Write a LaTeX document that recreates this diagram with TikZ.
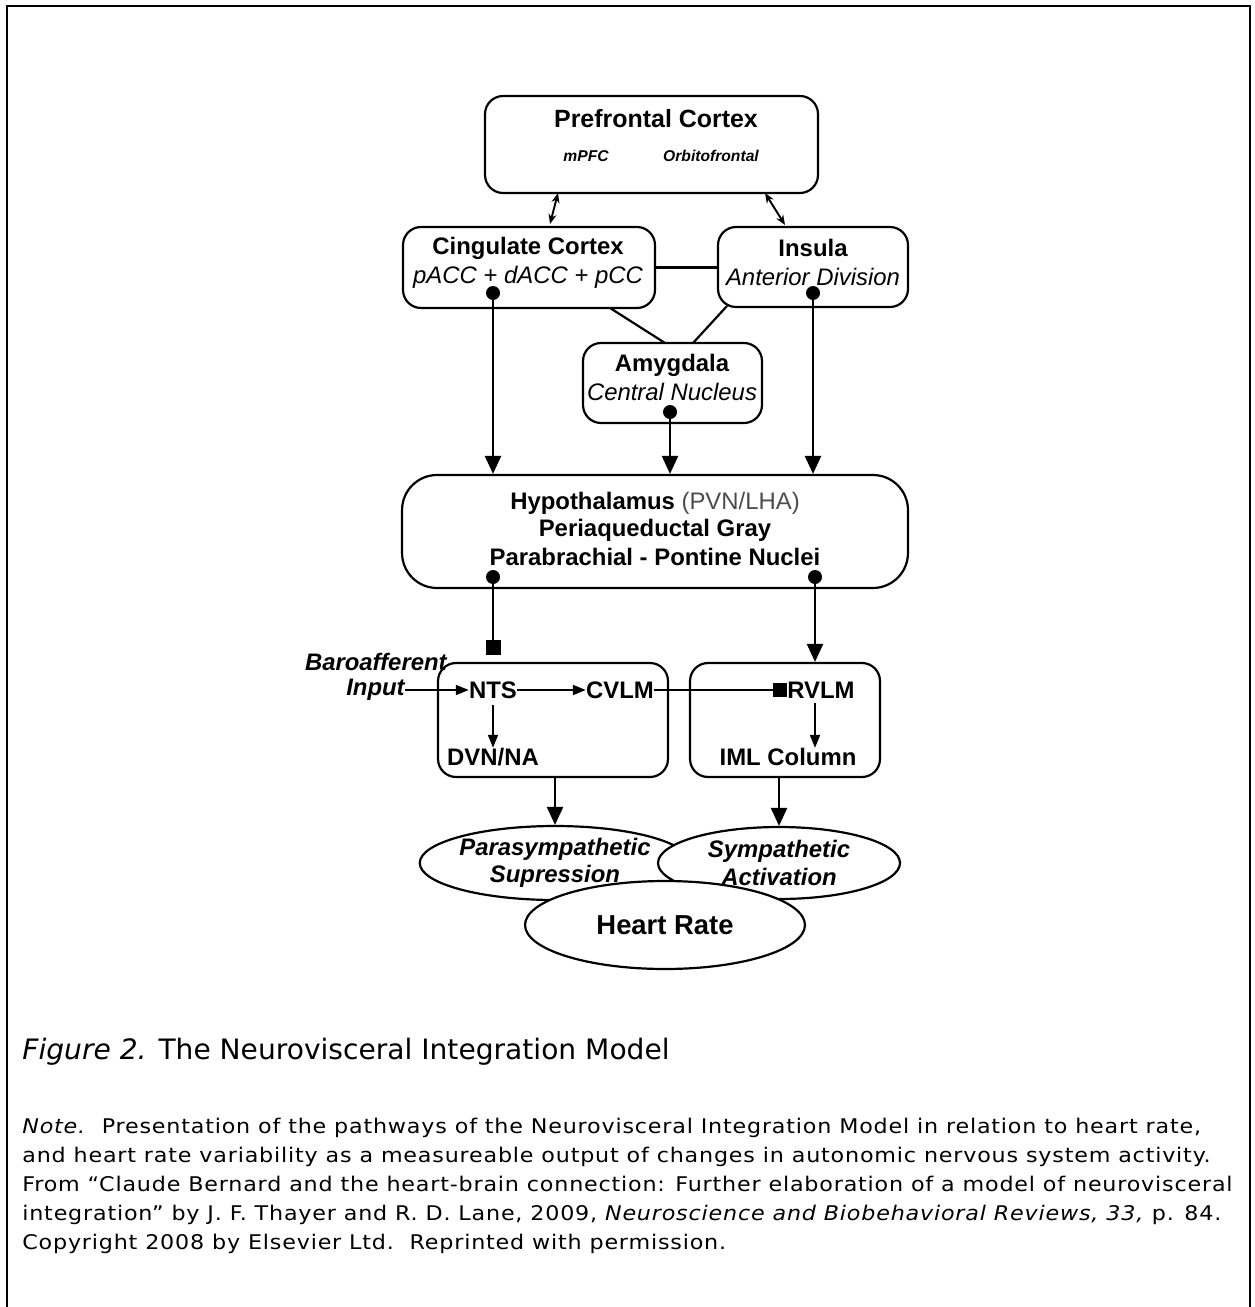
\documentclass[tikz,border=0pt]{standalone}
\usepackage{fontspec}
\setmainfont{Liberation Sans}
\newfontfamily\capfont{DejaVu Sans}
\newfontfamily\notefont[FakeStretch=1.1,LetterSpace=4]{DejaVu Sans}
\usetikzlibrary{arrows.meta,shapes.geometric}

\begin{document}
\begin{tikzpicture}[x=0.02cm,y=-0.02cm,
  box/.style={draw,line width=1.25pt,rounded corners=0.36cm,inner sep=0pt},
  oval/.style={draw,fill=white,ellipse,line width=1.25pt,inner sep=0pt,align=center},
  hd/.style={font=\bfseries\fontsize{13.6}{16}\selectfont,inner sep=0pt},
  it/.style={font=\itshape\fontsize{13.6}{16}\selectfont,inner sep=0pt},
  bi/.style={font=\bfseries\itshape\fontsize{13.6}{16}\selectfont,inner sep=0pt},
  small/.style={font=\bfseries\itshape\fontsize{8.9}{10}\selectfont,inner sep=0pt},
  down/.style={line width=1.3pt,-{Triangle[length=0.36cm,width=0.32cm]}},
  thin/.style={line width=1.1pt,-{Triangle[length=0.26cm,width=0.2cm]}},
  both/.style={line width=1.1pt,{Stealth[length=0.2cm,width=0.16cm]}-{Stealth[length=0.2cm,width=0.16cm]}},
  stop/.style={line width=1.3pt,-{Square[length=0.3cm,width=0.3cm]}},
  link/.style={line width=1.25pt},
  dot/.style={fill=black}]
\useasboundingbox (0,0) rectangle (1254,1307);
% frame
\draw[line width=1.2pt] (7,1307) -- (7,6) -- (1250,6) -- (1250,1307);

% boxes
\node[box,minimum width=6.66cm,minimum height=1.94cm] (pfc) at (651.5,144.5) {};
\node[hd,font=\bfseries\fontsize{14.2}{16}\selectfont] (pfct) at (656,119) {Prefrontal Cortex};
\node[small] (mpfc) at (586,156) {mPFC};
\node[small] (ofc) at (711,156) {Orbitofrontal};

\node[box,minimum width=5.04cm,minimum height=1.62cm] (cing) at (529,267.5) {};
\node[hd] (cingt) at (528,248) {Cingulate Cortex};
\node[it] (cings) at (528,277) {pACC + dACC + pCC};

\node[box,minimum width=3.8cm,minimum height=1.6cm] (ins) at (813,267) {};
\node[hd] (inst) at (813,248) {Insula};
\node[it] (inss) at (813,277) {Anterior Division};

\node[box,minimum width=3.58cm,minimum height=1.6cm] (amy) at (672.5,383) {};
\node[hd] (amyt) at (672,365) {Amygdala};
\node[it] (amys) at (672,392) {Central Nucleus};

\node[box,rounded corners=0.7cm,minimum width=10.12cm,minimum height=2.26cm] (hyp) at (655,531.5) {};
\node[hd] (hyp1) at (655,503) {Hypothalamus \textmd{\color{black!70}(PVN/LHA)}};
\node[hd] (hyp2) at (655,530) {Periaqueductal Gray};
\node[hd] (hyp3) at (655,557) {Parabrachial - Pontine Nuclei};

\node[box,minimum width=4.6cm,minimum height=2.28cm] (med) at (553,720) {};
\node[box,minimum width=3.8cm,minimum height=2.28cm] (vlm) at (785,720) {};

\node[bi,anchor=east] (baro) at (447,662) {Baroafferent};
\node[bi,anchor=east] (inp) at (405,690) {Input};
\node[hd] (nts) at (493,690) {NTS};
\node[hd] (cvlm) at (620,690) {CVLM};
\node[hd] (rvlm) at (821,690) {RVLM};
\node[hd] (dvn) at (493,757) {DVN/NA};
\node[hd] (iml) at (788,757) {IML Column};

% outputs
\node[oval,minimum width=4.8cm,minimum height=1.48cm] (para) at (555,863)
  {\bfseries\itshape\fontsize{13.6}{16}\selectfont Parasympathetic\\[2pt]\bfseries\itshape\fontsize{13.6}{16}\selectfont Supression};
\node[oval,minimum width=4.84cm,minimum height=1.44cm] (symp) at (779,863)
  {\bfseries\itshape\fontsize{13.6}{16}\selectfont Sympathetic\\[2pt]\bfseries\itshape\fontsize{13.6}{16}\selectfont Activation};
\node[oval,minimum width=5.6cm,minimum height=1.76cm,font=\bfseries\fontsize{15.6}{18}\selectfont] (hr) at (665,925) {Heart Rate};

% cortex links
\draw[both] (558,193) -- (550,224);
\draw[both] (765,193) -- (785,225);
\draw[link] (cing.east) -- (cing.east -| ins.west);
\draw[link] (610,308) -- (665,343);
\draw[link] (727,306) -- (693,343);

% descending paths
\coordinate (cd) at (493,293);
\coordinate (id) at (813,293);
\coordinate (ad) at (670,412);
\coordinate (hl) at (493,577);
\coordinate (hr2) at (815,577);
\coordinate (rv) at (815,703);
\foreach \p in {cd,id,ad,hl,hr2} \fill[dot] (\p) circle (0.14cm);
\draw[down] (cd) -- (cd |- hyp.north);
\draw[down] (ad) -- (ad |- hyp.north);
\draw[down] (id) -- (id |- hyp.north);
\draw[stop] (hl) -- (493,655);
\draw[down] (hr2) -- (hr2 |- vlm.north);

% medulla
\draw[thin] (inp.east) -- (nts.west);
\draw[thin] (nts.east) -- (cvlm.west);
\draw[line width=1.1pt,-{Square[length=0.28cm,width=0.28cm]}] (cvlm.east) -- (rvlm.west);
\draw[thin] (nts.south) ++(0,6) -- (dvn.north);
\draw[thin] (rv) -- (rv |- iml.north);
\draw[down] (para.north |- med.south) -- (para.north);
\draw[down] (symp.north |- vlm.south) -- (symp.north);

% caption
\node[anchor=base west,inner sep=0pt,font=\capfont\fontsize{16}{19}\selectfont] (cap) at (22,1059)
  {\textit{Figure 2.} The Neurovisceral Integration Model};
\node[anchor=base west,inner sep=0pt,align=left,font=\notefont\fontsize{11.5}{16.5}\selectfont] (note) at (22,1249)
  {\textit{Note.}\ \ Presentation of the pathways of the Neurovisceral Integration Model in relation to heart rate,\\
  and heart rate variability as a measureable output of changes in autonomic nervous system activity.\\
  From “Claude Bernard and the heart-brain connection: Further elaboration of a model of neurovisceral\\
  integration” by J. F. Thayer and R. D. Lane, 2009, \textit{Neuroscience and Biobehavioral Reviews, 33,} p. 84.\\
  Copyright 2008 by Elsevier Ltd.\ \ Reprinted with permission.};
\end{tikzpicture}
\end{document}
